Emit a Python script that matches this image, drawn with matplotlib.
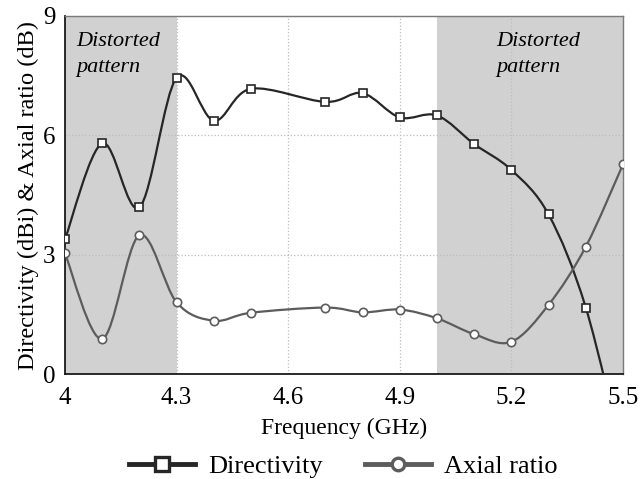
import matplotlib
matplotlib.use("Agg")
import matplotlib.pyplot as plt
import numpy as np
from matplotlib.path import Path
from matplotlib.patches import PathPatch
from matplotlib.lines import Line2D

plt.rcParams['font.family'] = ['Liberation Serif', 'DejaVu Serif']

# data
freq = [4.0, 4.1, 4.2, 4.3, 4.4, 4.5, 4.7, 4.8, 4.9, 5.0, 5.1, 5.2, 5.3, 5.4]
directivity = [3.39, 5.80, 4.19, 7.45, 6.37, 7.17, 6.84, 7.06, 6.45, 6.50, 5.78, 5.13, 4.01, 1.67]
dir_tail_x = 5.5
dir_tail_y = -2.1

ar_freq = [4.0, 4.1, 4.2, 4.3, 4.4, 4.5, 4.7, 4.8, 4.9, 5.0, 5.1, 5.2, 5.3, 5.4, 5.5]
axial_ratio = [3.03, 0.88, 3.49, 1.80, 1.34, 1.54, 1.67, 1.55, 1.62, 1.40, 1.00, 0.81, 1.74, 3.20, 5.27]

distorted_bands = [(4.0, 4.3), (5.0, 5.5)]
x_ticks = [4, 4.3, 4.6, 4.9, 5.2, 5.5]
x_labels = ['4', '4.3', '4.6', '4.9', '5.2', '5.5']
y_ticks = [0, 3, 6, 9]


def smooth_path(xs, ys):
    """Catmull-Rom curve through the points, as cubic Bezier segments."""
    pts = np.column_stack([xs, ys])
    n = len(pts)
    verts = [pts[0]]
    codes = [Path.MOVETO]
    for i in range(n - 1):
        p0 = pts[i - 1] if i > 0 else pts[i]
        p1 = pts[i]
        p2 = pts[i + 1]
        p3 = pts[i + 2] if i + 2 < n else pts[i + 1]
        c1 = p1 + (p2 - p0) / 6.0
        c2 = p2 - (p3 - p1) / 6.0
        verts += [c1, c2, p2]
        codes += [Path.CURVE4] * 3
    return Path(verts, codes)


def plot_chart():
    fig = plt.figure(figsize=(6.4, 4.79), dpi=100)
    ax = fig.add_axes([0.1016, 0.2192, 0.8718, 0.7474])

    for lo, hi in distorted_bands:
        ax.axvspan(lo, hi, color='#d1d1d1', zorder=0, lw=0)

    ax.grid(True, ls=':', color='#bdbdbd', lw=0.9, zorder=1)

    dir_col = '#262626'
    ar_col = '#5c5c5c'

    p = smooth_path(freq + [dir_tail_x], directivity + [dir_tail_y])
    ax.add_patch(PathPatch(p, fill=False, ec=dir_col, lw=1.6, zorder=3))
    ax.plot(freq, directivity, ls='none', marker='s', ms=6, mfc='white',
            mec=dir_col, mew=1.2, zorder=4)

    p = smooth_path(ar_freq, axial_ratio)
    ax.add_patch(PathPatch(p, fill=False, ec=ar_col, lw=1.6, zorder=3))
    ax.plot(ar_freq, axial_ratio, ls='none', marker='o', ms=6, mfc='white',
            mec=ar_col, mew=1.2, zorder=4)

    # annotation for the two distorted bands
    for x0 in [4.03, 5.16]:
        ax.text(x0, 8.03, 'Distorted\npattern', style='italic', fontsize=16,
                va='center', ha='left', linespacing=1.45)

    ax.set_xlim(4, 5.5)
    ax.set_ylim(0, 9)
    ax.set_xticks(x_ticks)
    ax.set_xticklabels(x_labels)
    ax.set_yticks(y_ticks)
    ax.tick_params(length=0, labelsize=18)
    ax.tick_params(axis='x', pad=9)
    ax.tick_params(axis='y', pad=7)

    for side in ['left', 'bottom']:
        ax.spines[side].set_color('#1a1a1a')
        ax.spines[side].set_linewidth(1.3)
    for side in ['top', 'right']:
        ax.spines[side].set_color('#7a7a7a')
        ax.spines[side].set_linewidth(1.0)

    ax.set_xlabel('Frequency (GHz)', fontsize=17, labelpad=7)
    ax.set_ylabel('Directivity (dBi) & Axial ratio (dB)', fontsize=17.6, labelpad=3)

    handles = [
        Line2D([], [], color=dir_col, lw=3.5, marker='s', ms=10, mfc='white',
               mec=dir_col, mew=2.4),
        Line2D([], [], color=ar_col, lw=3.5, marker='o', ms=9, mfc='white',
               mec=ar_col, mew=2.4),
    ]
    fig.legend(handles, ['Directivity', 'Axial ratio'], loc='center',
               bbox_to_anchor=(0.536, 0.027), ncol=2, frameon=False,
               fontsize=19, handlelength=2.5, handletextpad=0.5,
               columnspacing=1.6)

    fig.savefig('out.png', dpi=100)


def main():
    plot_chart()


if __name__ == "__main__":
    main()
